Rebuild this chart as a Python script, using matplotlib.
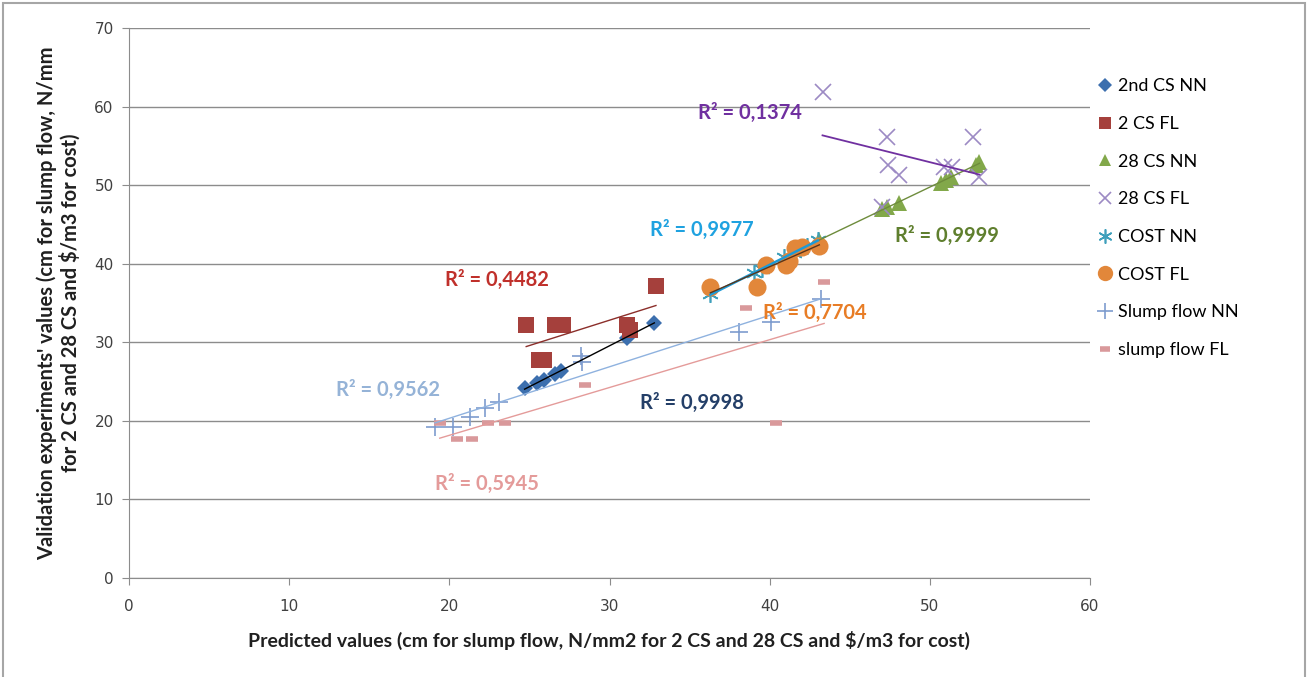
import numpy as np
import matplotlib
matplotlib.use("Agg")
import matplotlib.pyplot as plt
from matplotlib.patches import Rectangle

# ---- data ----
cs2_nn_x = [24.7, 25.5, 25.9, 26.6, 27.0, 31.1, 31.3, 32.8]
cs2_nn_y = [24.2, 24.8, 25.2, 26.0, 26.4, 30.6, 31.0, 32.5]

cs2_fl_x = [24.8, 25.6, 25.9, 26.6, 27.1, 31.1, 31.3, 32.9]
cs2_fl_y = [32.2, 27.7, 27.7, 32.2, 32.2, 32.2, 31.6, 37.2]

cs28_nn_x = [43.1, 47.0, 47.3, 48.1, 50.7, 51.0, 51.3, 52.9, 53.1]
cs28_nn_y = [43.0, 47.0, 47.2, 47.7, 50.3, 50.7, 51.0, 52.6, 52.9]

cs28_fl_x = [43.3, 47.0, 47.3, 47.4, 48.1, 50.9, 51.4, 52.7, 53.1]
cs28_fl_y = [61.9, 47.2, 56.1, 52.6, 51.3, 52.3, 52.3, 56.1, 51.0]

cost_nn_x = [36.3, 39.0, 39.5, 40.9, 41.5, 42.3, 43.0]
cost_nn_y = [36.1, 38.8, 39.3, 40.8, 41.4, 42.2, 43.0]

cost_fl_x = [36.3, 39.2, 39.8, 41.0, 41.2, 41.6, 42.0, 43.1]
cost_fl_y = [37.1, 37.1, 39.8, 39.9, 40.4, 42.0, 42.1, 42.3]

slump_nn_x = [19.1, 20.2, 21.3, 22.2, 23.1, 28.2, 28.3, 38.1, 40.1, 43.2]
slump_nn_y = [19.2, 19.2, 20.5, 21.7, 22.4, 28.3, 27.5, 31.3, 32.6, 35.5]

slump_fl_x = [19.4, 20.5, 21.4, 22.4, 23.5, 28.5, 38.5, 40.4, 43.4]
slump_fl_y = [19.7, 17.7, 17.7, 19.7, 19.7, 24.6, 34.4, 19.7, 37.7]

series_names = ["2nd CS NN", "2 CS FL", "28 CS NN", "28 CS FL",
                "COST NN", "COST FL", "Slump flow NN", "slump flow FL"]
r2_labels = ["R² = 0,9998", "R² = 0,4482", "R² = 0,9999", "R² = 0,1374",
             "R² = 0,9977", "R² = 0,7704", "R² = 0,9562", "R² = 0,5945"]

x_ticks = [0, 10, 20, 30, 40, 50, 60]
y_ticks = [0, 10, 20, 30, 40, 50, 60, 70]

# ---- styles ----
series = [
    (cs2_nn_x, cs2_nn_y, dict(marker='D', color='#3C6FAE', ms=8, mew=0), '#000000', 1.0),
    (cs2_fl_x, cs2_fl_y, dict(marker='s', color='#A5403C', ms=11, mew=0), '#8B2E2A', 1.0),
    (cs28_nn_x, cs28_nn_y, dict(marker='^', color='#82A84A', ms=11, mew=0), '#6E8C3C', 1.0),
    (cs28_fl_x, cs28_fl_y, dict(marker='x', color='#9C8AC4', ms=11, mew=1.2, mfc='none'), '#7030A0', 1.3),
    (cost_nn_x, cost_nn_y, dict(marker=(6, 2, 0), color='#3FA0BC', ms=12, mew=1.2), '#1E9AD6', 1.8),
    (cost_fl_x, cost_fl_y, dict(marker='o', color='#E2873A', ms=13, mew=0), '#5A3418', 1.0),
    (slump_nn_x, slump_nn_y, dict(marker='+', color='#7E9CCE', ms=13, mew=1.2), '#8FB2DF', 1.0),
    (slump_fl_x, slump_fl_y, dict(marker='_', color='#D9999B', ms=8, mew=4), '#E49B9A', 1.0),
]

label_pos = [(31.9, 22.3), (19.7, 37.9), (47.8, 43.5), (35.5, 59.2),
             (32.5, 44.3), (39.6, 33.7), (12.9, 23.9), (19.1, 12.0)]
label_colors = ['#243F68', '#C0302B', '#5F7F2E', '#7030A0',
                '#1FA2E0', '#E87D26', '#95B3D7', '#E49B9A']

fig = plt.figure(figsize=(13.08, 6.77), dpi=100)
ax = fig.add_axes([129/1308, 1-578/677, (1090-129)/1308, (578-28)/677])

handles = []
for (xs, ys, st, lc, lw), name in zip(series, series_names):
    h, = ax.plot(xs, ys, linestyle='none', label=name, zorder=3, **st)
    handles.append(h)

for (xs, ys, st, lc, lw) in series:
    xs_a = np.array(xs); ys_a = np.array(ys)
    k, b = np.polyfit(xs_a, ys_a, 1)
    xx = np.array([xs_a.min(), xs_a.max()])
    ax.plot(xx, k*xx + b, color=lc, lw=lw, zorder=4)

for txt, (lx, ly), c in zip(r2_labels, label_pos, label_colors):
    ax.text(lx, ly, txt, color=c, fontsize=14.5, fontweight='bold',
            family=['Lato', 'DejaVu Sans'], ha='left', va='center', zorder=5)

ax.set_xlim(0, 60)
ax.set_ylim(0, 70)
ax.set_xticks(x_ticks)
ax.set_yticks(y_ticks)
ax.yaxis.grid(True, color='#8C8C8C', lw=1)
ax.set_axisbelow(True)
for s in ['top', 'right']:
    ax.spines[s].set_visible(False)
for s in ['left', 'bottom']:
    ax.spines[s].set_color('#8C8C8C')
ax.tick_params(axis='both', direction='out', length=5, color='#8C8C8C',
               labelsize=11, labelcolor='#404040', pad=6)
ax.tick_params(axis='x', pad=10)
for lab in ax.get_xticklabels() + ax.get_yticklabels():
    lab.set_family('DejaVu Sans')

ax.set_xlabel("Predicted values (cm for slump flow, N/mm2 for 2 CS and 28 CS and $/m3 for cost)",
              fontsize=14, fontweight='bold', family='Lato', color='#202020', labelpad=12)
ax.set_ylabel("Validation experiments' values (cm for slump flow, N/mm\nfor 2 CS and 28 CS and $/m3 for cost)",
              fontsize=14.5, fontweight='bold', family='Lato', color='#202020', labelpad=10,
              linespacing=1.1)

leg = fig.legend(handles=handles, loc='upper left', bbox_to_anchor=(1082/1308, 1-62/677),
                 frameon=False, prop={'family': 'Lato', 'size': 13},
                 labelspacing=1.2, handlelength=0.8, handletextpad=0.3, markerscale=0.85)

fig.patches.append(Rectangle((3/1308, -0.02), (1305-3)/1308, 1.0 - 3/677 + 0.02,
                             transform=fig.transFigure, fill=False,
                             edgecolor='#A6A6A6', lw=1.5))

fig.savefig("out.png", dpi=100, facecolor='white')
